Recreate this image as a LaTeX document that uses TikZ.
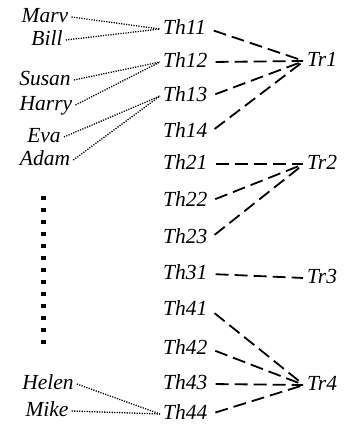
\documentclass[tikz,border=0pt]{standalone}
\usepackage{fontspec}
\setmainfont{Liberation Serif}
\begin{document}
\begin{tikzpicture}[x=1pt,y=-1pt,
  lbl/.style={font=\fontsize{21.5}{25}\selectfont\itshape, inner xsep=3pt, inner ysep=0pt, text height=14pt, text depth=3pt},
  th/.style={lbl, anchor=west},
  tr/.style={lbl, anchor=west},
  nm/.style={lbl, anchor=center},
  dotline/.style={line width=1.3pt, dash pattern=on 1.2pt off 1.3pt},
  dashline/.style={line width=1.8pt, dash pattern=on 13pt off 6pt, shorten <=5pt, shorten >=1pt}]
\useasboundingbox (0,0) rectangle (361,425);
% names
\node[nm] (marv) at (45,17) {Marv};
\node[nm] (bill) at (47,40) {Bill};
\node[nm] (susan) at (45,80) {Susan};
\node[nm] (harry) at (46,105) {Harry};
\node[nm] (eva) at (44,137) {Eva};
\node[nm] (adam) at (45,160) {Adam};
\node[nm] (helen) at (48,384) {Helen};
\node[nm] (mike) at (47,411) {Mike};
% threads
\node[th] (th11) at (160,29) {Th11};
\node[th] (th12) at (160,62) {Th12};
\node[th] (th13) at (160,96) {Th13};
\node[th] (th14) at (160,132) {Th14};
\node[th] (th21) at (160,164) {Th21};
\node[th] (th22) at (160,201) {Th22};
\node[th] (th23) at (160,238) {Th23};
\node[th] (th31) at (160,274) {Th31};
\node[th] (th41) at (160,310) {Th41};
\node[th] (th42) at (160,349) {Th42};
\node[th] (th43) at (160,384) {Th43};
\node[th] (th44) at (160,414) {Th44};
% targets
\node[tr] (tr1) at (304,61) {Tr1};
\node[tr] (tr2) at (304,164) {Tr2};
\node[tr] (tr3) at (304,278) {Tr3};
\node[tr] (tr4) at (304,385) {Tr4};
% dotted name links
\draw[dotline] (marv.east) -- (th11.west);
\draw[dotline] (bill.east) -- (th11.west);
\draw[dotline] (susan.east) -- (th12.west);
\draw[dotline] (harry.east) -- (th12.west);
\draw[dotline] (eva.east) -- (th13.west);
\draw[dotline] (adam.east) -- (th13.west);
\draw[dotline] (helen.east) -- (th44.west);
\draw[dotline] (mike.east) -- (th44.west);
% dashed links
\foreach \t in {th11,th12,th13,th14} \draw[dashline] (\t.east) -- (tr1.west);
\foreach \t in {th21,th22,th23} \draw[dashline] (\t.east) -- (tr2.west);
\draw[dashline] (th31.east) -- (tr3.west);
\foreach \t in {th41,th42,th43,th44} \draw[dashline] (\t.east) -- (tr4.west);
% vertical ellipsis of squares
\foreach \i in {0,...,12} \fill (40.5,{198+12*\i-2.3}) rectangle (45.5,{198+12*\i+2.3});
\end{tikzpicture}
\end{document}
